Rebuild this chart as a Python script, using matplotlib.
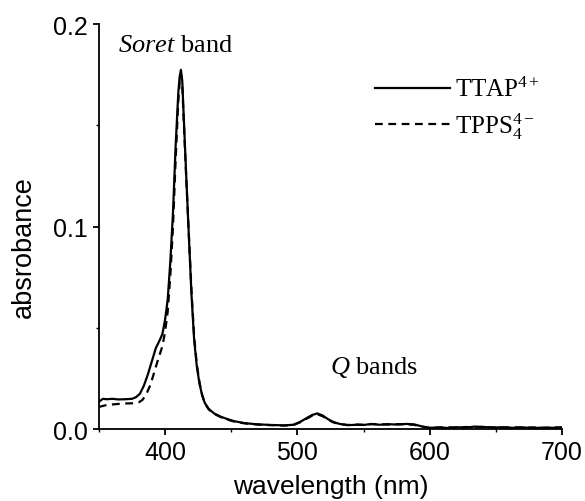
import matplotlib
matplotlib.use("Agg")
import matplotlib.pyplot as plt
from matplotlib.ticker import FixedLocator, MultipleLocator

plt.rcParams['mathtext.fontset'] = 'custom'
plt.rcParams['mathtext.rm'] = 'Liberation Serif'
plt.rcParams['mathtext.it'] = 'Liberation Serif:italic'

# ---- data ----
ttap_wl = [350, 353, 356, 360, 365, 370, 375, 378, 381, 384, 387, 390, 393, 396, 398,
           400, 402, 404, 406, 408, 410, 411, 412, 413, 414, 416, 418, 420, 422, 424,
           426, 428, 430, 433, 437, 442, 447, 452, 460, 470, 480, 490, 497, 502, 507,
           511, 515, 519, 523, 527, 532, 538, 545, 550, 556, 562, 568, 575, 582, 588,
           594, 600, 607, 614, 620, 627, 634, 641, 648, 655, 662, 670, 678, 686, 693, 700]
ttap_abs = [0.0135, 0.0150, 0.0148, 0.0150, 0.0147, 0.0148, 0.0150, 0.0158, 0.0175, 0.0215,
            0.0270, 0.0335, 0.0400, 0.0440, 0.0470, 0.0540, 0.0640, 0.0830, 0.1070, 0.1400,
            0.1660, 0.1740, 0.1774, 0.1720, 0.1560, 0.1250, 0.0950, 0.0660, 0.0440, 0.0310,
            0.0225, 0.0168, 0.0130, 0.0100, 0.0078, 0.0062, 0.0050, 0.0040, 0.0030, 0.0024,
            0.0021, 0.0019, 0.0022, 0.0036, 0.0055, 0.0070, 0.0078, 0.0068, 0.0050, 0.0036,
            0.0026, 0.0020, 0.0022, 0.0021, 0.0026, 0.0022, 0.0025, 0.0023, 0.0026, 0.0024,
            0.0014, 0.0007, 0.0009, 0.0006, 0.0010, 0.0008, 0.0013, 0.0011, 0.0008, 0.0010,
            0.0007, 0.0009, 0.0006, 0.0008, 0.0007, 0.0009]

tpps_wl = [350, 355, 360, 365, 370, 375, 380, 383, 386, 389, 392, 395, 398, 400, 402,
           404, 406, 408, 410, 411, 412, 413, 414, 416, 418, 420, 422, 424, 426, 428,
           430, 433, 437, 442, 447, 452, 460, 470, 480, 490, 497, 502, 507, 511, 515,
           519, 523, 527, 532, 538, 545, 550, 556, 562, 568, 575, 582, 588, 594, 600,
           607, 614, 620, 627, 634, 641, 648, 655, 662, 670, 678, 686, 693, 700]
tpps_abs = [0.0110, 0.0118, 0.0122, 0.0125, 0.0127, 0.0128, 0.0132, 0.0145, 0.0175, 0.0220,
            0.0285, 0.0350, 0.0410, 0.0480, 0.0580, 0.0760, 0.1000, 0.1330, 0.1620, 0.1710,
            0.1750, 0.1700, 0.1540, 0.1240, 0.0960, 0.0680, 0.0455, 0.0320, 0.0232, 0.0170,
            0.0128, 0.0098, 0.0076, 0.0060, 0.0048, 0.0038, 0.0029, 0.0023, 0.0020, 0.0018,
            0.0021, 0.0034, 0.0052, 0.0066, 0.0074, 0.0064, 0.0047, 0.0034, 0.0025, 0.0021,
            0.0023, 0.0022, 0.0025, 0.0024, 0.0023, 0.0025, 0.0024, 0.0022, 0.0012, 0.0006,
            0.0008, 0.0010, 0.0007, 0.0011, 0.0009, 0.0012, 0.0009, 0.0007, 0.0010, 0.0008,
            0.0009, 0.0006, 0.0009, 0.0008]

x_ticks = [400, 500, 600, 700]
x_ticklabels = ["400", "500", "600", "700"]
y_ticks = [0.0, 0.1, 0.2]
y_ticklabels = ["0.0", "0.1", "0.2"]
series_labels = [r"TTAP$^{4+}$", r"TPPS$_4^{4-}$"]

# ---- figure ----
fig = plt.figure(figsize=(5.85, 5.02), dpi=100)
ax = fig.add_axes([0.169, 0.143, 0.792, 0.807])

ax.plot(ttap_wl, ttap_abs, color="black", lw=1.6, ls="-", label=series_labels[0])
ax.plot(tpps_wl, tpps_abs, color="black", lw=1.6, ls=(0, (3.5, 2.5)), label=series_labels[1])

ax.set_xlim(350, 700)
ax.set_ylim(0.0, 0.2)
ax.spines['top'].set_visible(False)
ax.spines['right'].set_visible(False)
for s in ('left', 'bottom'):
    ax.spines[s].set_linewidth(1.3)

ax.xaxis.set_major_locator(FixedLocator(x_ticks))
ax.set_xticklabels(x_ticklabels)
ax.xaxis.set_minor_locator(MultipleLocator(50))
ax.yaxis.set_major_locator(FixedLocator(y_ticks))
ax.set_yticklabels(y_ticklabels)
ax.yaxis.set_minor_locator(MultipleLocator(0.05))
ax.tick_params(which='major', direction='out', length=4, width=1.3, labelsize=18, pad=4)
ax.tick_params(which='minor', direction='out', length=2.5, width=1.0)
for lab in ax.get_xticklabels() + ax.get_yticklabels():
    lab.set_fontfamily('Liberation Sans')

ax.set_xlabel("wavelength (nm)", fontsize=19, fontfamily='Liberation Sans', labelpad=7)
ax.set_ylabel("absrobance", fontsize=19.5, fontfamily='Liberation Sans')
ax.yaxis.set_label_coords(-0.134, 0.452)

ax.text(408, 0.1895, r"$\it{Soret}$ band", ha='center', va='center',
        fontsize=19, fontfamily='Liberation Serif')
ax.text(558, 0.031, r"$\it{Q}$ bands", ha='center', va='center',
        fontsize=19, fontfamily='Liberation Serif')

leg = ax.legend(loc='upper left', bbox_to_anchor=(0.57, 0.90), frameon=False,
                prop={'family': 'Liberation Serif', 'size': 18},
                handlelength=3.0, handletextpad=0.2, labelspacing=0.35, borderpad=0)

fig.savefig("out.png", dpi=100)
